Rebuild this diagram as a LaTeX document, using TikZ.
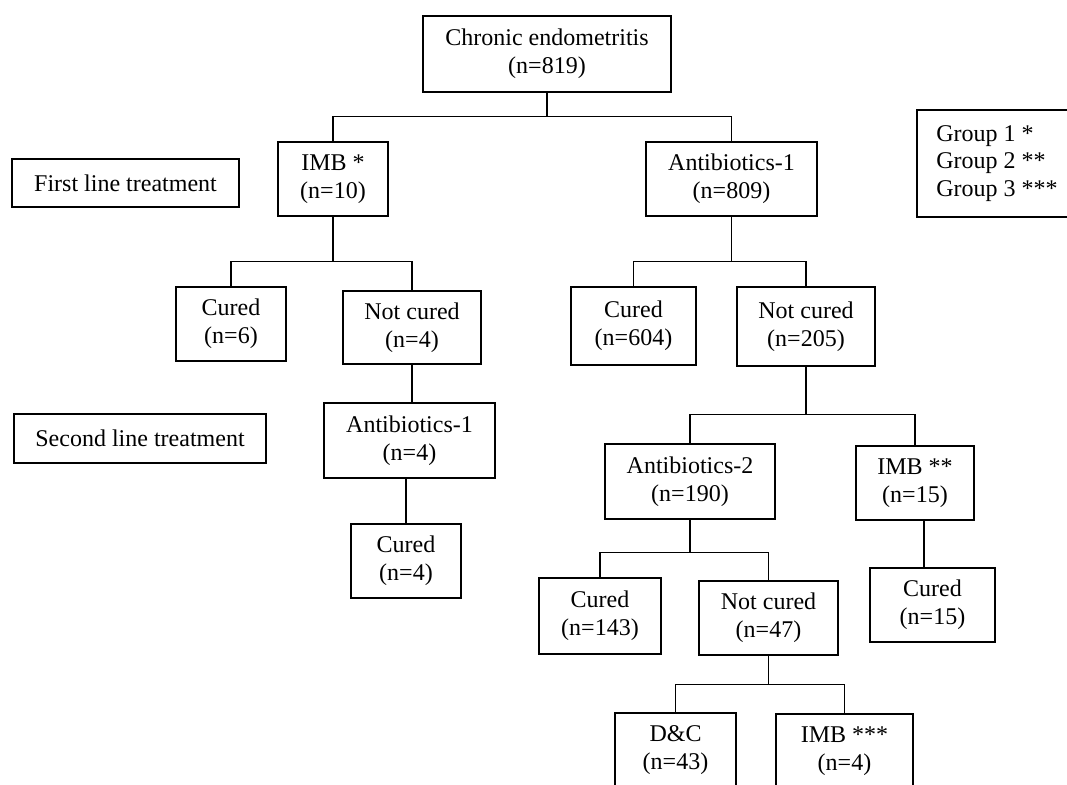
\documentclass[tikz,border=0pt]{standalone}
\usepackage{fontspec}
\setmainfont{Liberation Serif}
\usetikzlibrary{calc}
\tikzset{
	stage/.style={rectangle, draw=black, line width=0.7pt, align=center, inner sep=0pt, font=\fontsize{12}{13.8}\selectfont},
	boxsize/.style 2 args={minimum width=#1*0.5pt, minimum height=#2*0.5pt},
	legendbox/.style={stage, align=left},
	link/.style={draw=black, line width=0.7pt},
}
\begin{document}
\begin{tikzpicture}[x=0.5pt, y=-0.5pt]
		\useasboundingbox (0,0) rectangle (1067,785);
		\clip (0,0) rectangle (1067,785);
		\node[stage, boxsize={248}{76}] (chronic) at (547,54) {Chronic endometritis\\(n=819)};
		\node[stage, boxsize={110}{74}] (imbfirst) at (333,179) {IMB *\\(n=10)};
		\node[stage, boxsize={171}{74}] (abxfirst) at (731.5,179) {Antibiotics-1\\(n=809)};
		\node[stage, boxsize={227}{48}] (firstline) at (125.5,183) {First line treatment};
		\node[legendbox, boxsize={160}{107}] (groups) at (997,163.5) {Group 1 *\\Group 2 **\\Group 3 ***};
		\node[stage, boxsize={110}{74}] (imbcured) at (231,324) {Cured\\(n=6)};
		\node[stage, boxsize={138}{73}] (imbnotcured) at (412,327.5) {Not cured\\(n=4)};
		\node[stage, boxsize={125}{78}] (abxcured) at (633.5,326) {Cured\\(n=604)};
		\node[stage, boxsize={138}{79}] (abxnotcured) at (806,326.5) {Not cured\\(n=205)};
		\node[stage, boxsize={252}{49}] (secondline) at (140,438.5) {Second line treatment};
		\node[stage, boxsize={171}{75}] (abxsecond) at (409.5,440.5) {Antibiotics-1\\(n=4)};
		\node[stage, boxsize={110}{74}] (abxsecondcured) at (406,561) {Cured\\(n=4)};
		\node[stage, boxsize={170}{75}] (abxtwo) at (690,481.5) {Antibiotics-2\\(n=190)};
		\node[stage, boxsize={118}{74}] (imbsecond) at (915,483) {IMB **\\(n=15)};
		\node[stage, boxsize={122}{76}] (abxtwocured) at (600,616) {Cured\\(n=143)};
		\node[stage, boxsize={139}{74}] (abxtwonotcured) at (768.5,618) {Not cured\\(n=47)};
		\node[stage, boxsize={125}{74}] (imbsecondcured) at (932.5,605) {Cured\\(n=15)};
		\node[stage, boxsize={121}{74}] (curettage) at (675.5,750) {D\&C\\(n=43)};
		\node[stage, boxsize={137}{74}] (imbthird) at (844.5,751) {IMB ***\\(n=4)};
		\draw[link] (chronic.south) -- ++(0,24) coordinate (forktop);
		\draw[link] (forktop) -| (imbfirst.north);
		\draw[link] (forktop) -| (abxfirst.north);
		\draw[link] (imbfirst.south) -- ++(0,45) coordinate (forkimb);
		\draw[link] (forkimb) -| (imbcured.north);
		\draw[link] (forkimb) -| (imbnotcured.north);
		\draw[link] (abxfirst.south) -- ++(0,45) coordinate (forkabx);
		\draw[link] (forkabx) -| (abxcured.north);
		\draw[link] (forkabx) -| (abxnotcured.north);
		\draw[link] (imbnotcured.south) -- (imbnotcured.south |- abxsecond.north);
		\draw[link] (abxsecondcured.north |- abxsecond.south) -- (abxsecondcured.north);
		\draw[link] (abxnotcured.south) -- ++(0,48) coordinate (forkresist);
		\draw[link] (forkresist) -| (abxtwo.north);
		\draw[link] (forkresist) -| (imbsecond.north);
		\draw[link] ([xshift=4.5pt]imbsecond.south) -- ([xshift=-4.25pt]imbsecondcured.north);
		\draw[link] (abxtwo.south) -- ++(0,33) coordinate (forkabxtwo);
		\draw[link] (forkabxtwo) -| (abxtwocured.north);
		\draw[link] (forkabxtwo) -| (abxtwonotcured.north);
		\draw[link] (abxtwonotcured.south) -- ++(0,29) coordinate (forklast);
		\draw[link] (forklast) -| (curettage.north);
		\draw[link] (forklast) -| (imbthird.north);
	\end{tikzpicture}
\end{document}
